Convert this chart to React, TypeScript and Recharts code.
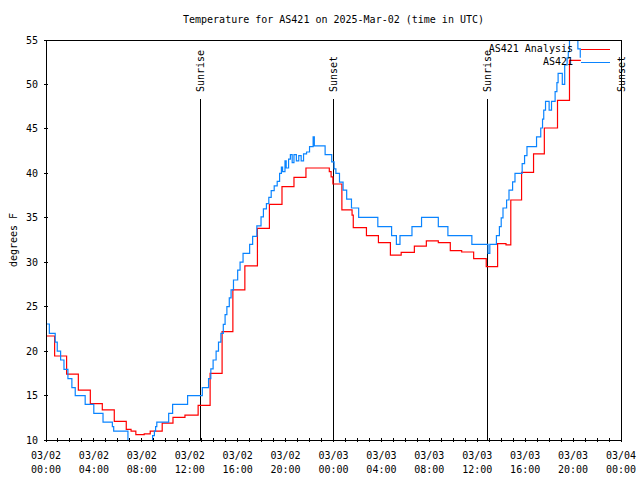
import { Line, LineChart, ReferenceLine, XAxis, YAxis } from 'recharts';

const FONT = "'DejaVu Sans Mono', monospace";

// AS421 Analysis (hourly analysis, stepped)
const analysisHours = [
  0, 0.72, 1.72, 2.7, 3.7, 4.7, 5.7, 6.7, 7.1, 7.5, 8.2, 8.7, 9.7, 10.6, 11.6, 12.7, 13.7, 14.7,
  15.6, 16.6, 17.65, 18.65, 19.7, 20.7, 21.7, 23.65, 23.8, 23.95, 24.7, 25.55, 25.65, 26.75, 27.75,
  28.75, 29.65, 30.75, 31.75, 32.75, 33.75, 34.7, 35.7, 36.75, 37.7, 38.4, 38.8, 39.7, 40.7, 41.6,
  42.7, 43.7, 44.65,
];
const analysisTemps = [
  21.7, 19.45, 17.4, 15.6, 14.1, 13.4, 12.1, 11.2, 11.0, 10.6, 10.7, 11.0, 11.9, 12.55, 12.8, 13.9,
  17.5, 22.2, 26.9, 29.6, 33.8, 36.5, 38.5, 39.55, 40.6, 40.2, 39.6, 38.8, 35.9, 35.3, 33.9, 33.0,
  32.2, 30.8, 31.1, 31.8, 32.4, 32.2, 31.3, 31.15, 30.4, 29.5, 32.1, 31.95, 37.0, 40.1, 42.2, 45.1,
  48.2, 52.7, 52.7,
];

// AS421 observations
const obsHours = [
  0, 0.28, 0.77, 0.94, 1.22, 1.5, 1.83, 2.16, 2.44, 3.27, 3.99, 4.76, 5.54, 5.65, 6.84, 8.9, 9.05,
  9.15, 9.25, 10.24, 10.57, 11.82, 13.05, 13.57, 13.76, 13.95, 14.2, 14.4, 14.6, 14.8, 14.95, 15.1,
  15.3, 15.45, 15.65, 16.0, 16.2, 16.45, 17.0, 17.25, 17.6, 17.95, 18.15, 18.4, 18.6, 18.8, 19.05,
  19.3, 19.5, 19.65, 19.75, 19.95, 20.05, 20.25, 20.4, 20.55, 20.7, 20.9, 21.1, 21.3, 21.5, 21.75,
  22.0, 22.3, 22.4, 23.3, 23.85, 24.05, 24.2, 24.5, 24.8, 25.1, 25.5, 26.1, 27.7, 28.85, 29.25,
  29.55, 30.55, 31.35, 32.75, 33.55, 35.55, 36.9, 37.05, 37.6, 37.85, 38.0, 38.15, 38.45, 38.65,
  38.95, 39.15, 39.75, 39.95, 40.15, 40.95, 41.3, 41.45, 41.55, 41.7, 42.0, 42.2, 42.5, 42.65, 42.75,
  43.1, 43.3, 43.5, 43.6, 43.7, 43.9, 44.05, 44.2, 44.4, 44.6,
];
const obsTemps = [
  23.05, 22.0, 21.0, 20.0, 19.0, 17.95, 16.9, 15.9, 15.0, 14.0, 13.0, 12.0, 11.5, 11.0, 9.5, 10.5,
  11.0, 11.5, 12.0, 13.0, 14.0, 15.0, 15.9, 16.9, 18.0, 19.0, 20.0, 21.0, 22.0, 23.0, 24.1, 25.0,
  26.0, 26.9, 28.0, 29.1, 30.0, 31.0, 32.0, 32.9, 34.1, 35.1, 36.0, 36.6, 37.3, 38.05, 38.6, 39.1,
  40.0, 40.7, 40.2, 41.4, 40.6, 41.6, 42.1, 41.2, 42.1, 41.4, 42.0, 41.4, 42.2, 42.4, 43.0, 44.1,
  43.1, 42.1, 41.3, 40.5, 40.0, 39.0, 38.1, 37.1, 36.1, 35.05, 34.0, 33.0, 32.0, 33.0, 34.0, 35.05,
  34.0, 33.0, 32.0, 31.0, 32.0, 33.0, 34.0, 35.0, 36.1, 37.0, 38.1, 39.05, 40.0, 41.1, 42.0, 43.0,
  44.1, 45.1, 46.1, 47.1, 48.1, 47.1, 48.1, 49.2, 50.2, 51.25, 50.0, 52.2, 53.0, 53.7, 55.5, 56.0,
  55.0, 56.0, 54.0, 53.0,
];

const hourTicks = [
  0, 1, 2, 3, 4, 5, 6, 7, 8, 9, 10, 11, 12, 13, 14, 15, 16, 17, 18, 19, 20, 21, 22, 23, 24, 25, 26,
  27, 28, 29, 30, 31, 32, 33, 34, 35, 36, 37, 38, 39, 40, 41, 42, 43, 44, 45, 46, 47, 48,
];
const labelHours = [0, 4, 8, 12, 16, 20, 24, 28, 32, 36, 40, 44, 48];
const labelDates = ['03/02', '03/02', '03/02', '03/02', '03/02', '03/02', '03/03', '03/03', '03/03', '03/03', '03/03', '03/03', '03/04'];
const labelTimes = ['00:00', '04:00', '08:00', '12:00', '16:00', '20:00', '00:00', '04:00', '08:00', '12:00', '16:00', '20:00', '00:00'];
const tempTicks = [10, 15, 20, 25, 30, 35, 40, 45, 50, 55];

const sunHours = [12.88, 23.98, 36.83, 48];
const sunNames = ['Sunrise', 'Sunset', 'Sunrise', 'Sunset'];
const sunLineTop = 48.36;

const analysisData = analysisHours.map((h, i) => ({ h, t: analysisTemps[i] }));
const obsData = obsHours.map((h, i) => ({ h, t: obsTemps[i] }));

function BottomTick({ x, y, payload }: any) {
  const idx = labelHours.indexOf(payload.value);
  return (
    <g>
      <line x1={x} x2={x} y1={y} y2={y - 4} stroke="#000" shapeRendering="crispEdges" />
      {idx >= 0 ? (
        <text x={x} y={y + 17} textAnchor="middle" fontFamily={FONT} fontSize={10} fill="#000">
          <tspan x={x}>{labelDates[idx]}</tspan>
          <tspan x={x} dy={14}>
            {labelTimes[idx]}
          </tspan>
        </text>
      ) : null}
    </g>
  );
}

function TopTick({ x, y }: any) {
  return <line x1={x} x2={x} y1={y} y2={y + 4} stroke="#000" shapeRendering="crispEdges" />;
}

function LeftTick({ x, y, payload }: any) {
  return (
    <g>
      <line x1={x} x2={x + 4} y1={y} y2={y} stroke="#000" shapeRendering="crispEdges" />
      <text x={x - 6} y={y + 3.5} textAnchor="end" fontFamily={FONT} fontSize={10} fill="#000">
        {payload.value}
      </text>
    </g>
  );
}

function RightTick({ x, y }: any) {
  return <line x1={x} x2={x - 4} y1={y} y2={y} stroke="#000" shapeRendering="crispEdges" />;
}

function SunLabel({ viewBox, value }: any) {
  const x = viewBox.x + 4;
  const y = viewBox.y - 7;
  return (
    <text x={x} y={y} transform={`rotate(-90 ${x} ${y})`} fontFamily={FONT} fontSize={10} fill="#000">
      {value}
    </text>
  );
}

function YLabel({ viewBox }: any) {
  const x = viewBox.x + 17;
  const y = viewBox.y + viewBox.height / 2;
  return (
    <text x={x} y={y} transform={`rotate(-90 ${x} ${y})`} textAnchor="middle" fontFamily={FONT} fontSize={10} fill="#000">
      degrees F
    </text>
  );
}

export default function App() {
  return (
    <div style={{ position: 'absolute', left: 0, top: 0, width: 640, height: 480, background: '#fff' }}>
      <LineChart width={640} height={480} margin={{ top: 0, right: 0, bottom: 0, left: 0 }}>
        <XAxis
          dataKey="h"
          type="number"
          domain={[0, 48]}
          ticks={hourTicks}
          interval={0}
          height={40}
          tickSize={0}
          tickLine={false}
          stroke="#000"
          axisLine={{ stroke: '#000', shapeRendering: 'crispEdges' }}
          tick={BottomTick}
        />
        <XAxis
          xAxisId="top"
          orientation="top"
          dataKey="h"
          type="number"
          domain={[0, 48]}
          ticks={hourTicks}
          interval={0}
          height={40}
          tickSize={0}
          tickLine={false}
          stroke="#000"
          axisLine={{ stroke: '#000', shapeRendering: 'crispEdges' }}
          tick={TopTick}
        />
        <YAxis
          type="number"
          domain={[10, 55]}
          ticks={tempTicks}
          interval={0}
          allowDataOverflow
          width={46}
          tickSize={0}
          tickLine={false}
          stroke="#000"
          axisLine={{ stroke: '#000', shapeRendering: 'crispEdges' }}
          tick={LeftTick}
          label={<YLabel />}
        />
        <YAxis
          yAxisId="right"
          orientation="right"
          type="number"
          domain={[10, 55]}
          ticks={tempTicks}
          interval={0}
          width={19}
          tickSize={0}
          tickLine={false}
          stroke="#000"
          axisLine={{ stroke: '#000', shapeRendering: 'crispEdges' }}
          tick={RightTick}
        />
        {sunHours.map((h, i) => (
          <ReferenceLine
            key={i}
            segment={[
              { x: h, y: 10 },
              { x: h, y: sunLineTop },
            ]}
            stroke="#000"
            strokeWidth={1}
            shapeRendering="crispEdges"
            label={<SunLabel value={sunNames[i]} />}
          />
        ))}
        <Line
          data={analysisData}
          dataKey="t"
          name="AS421 Analysis"
          type="stepAfter"
          stroke="#ff0000"
          strokeWidth={1.2}
          dot={false}
          isAnimationActive={false}
        />
        <Line
          data={obsData}
          dataKey="t"
          name="AS421"
          type="stepAfter"
          stroke="#0a84ff"
          strokeWidth={1.2}
          dot={false}
          isAnimationActive={false}
        />
      </LineChart>

      <div
        style={{
          position: 'absolute',
          left: 46,
          width: 575,
          top: 13,
          textAlign: 'center',
          fontFamily: FONT,
          fontSize: 10,
          lineHeight: '14px',
        }}
      >
        Temperature for AS421 on 2025-Mar-02 (time in UTC)
      </div>

      {[
        { name: 'AS421 Analysis', color: '#ff0000', y: 49 },
        { name: 'AS421', color: '#0a84ff', y: 62 },
      ].map((item) => (
        <div key={item.name}>
          <div
            style={{
              position: 'absolute',
              left: 373,
              width: 200,
              top: item.y - 7,
              textAlign: 'right',
              fontFamily: FONT,
              fontSize: 10,
              lineHeight: '14px',
            }}
          >
            {item.name}
          </div>
          <div style={{ position: 'absolute', left: 581, width: 29, top: item.y, borderTop: `1px solid ${item.color}` }} />
        </div>
      ))}
    </div>
  );
}
